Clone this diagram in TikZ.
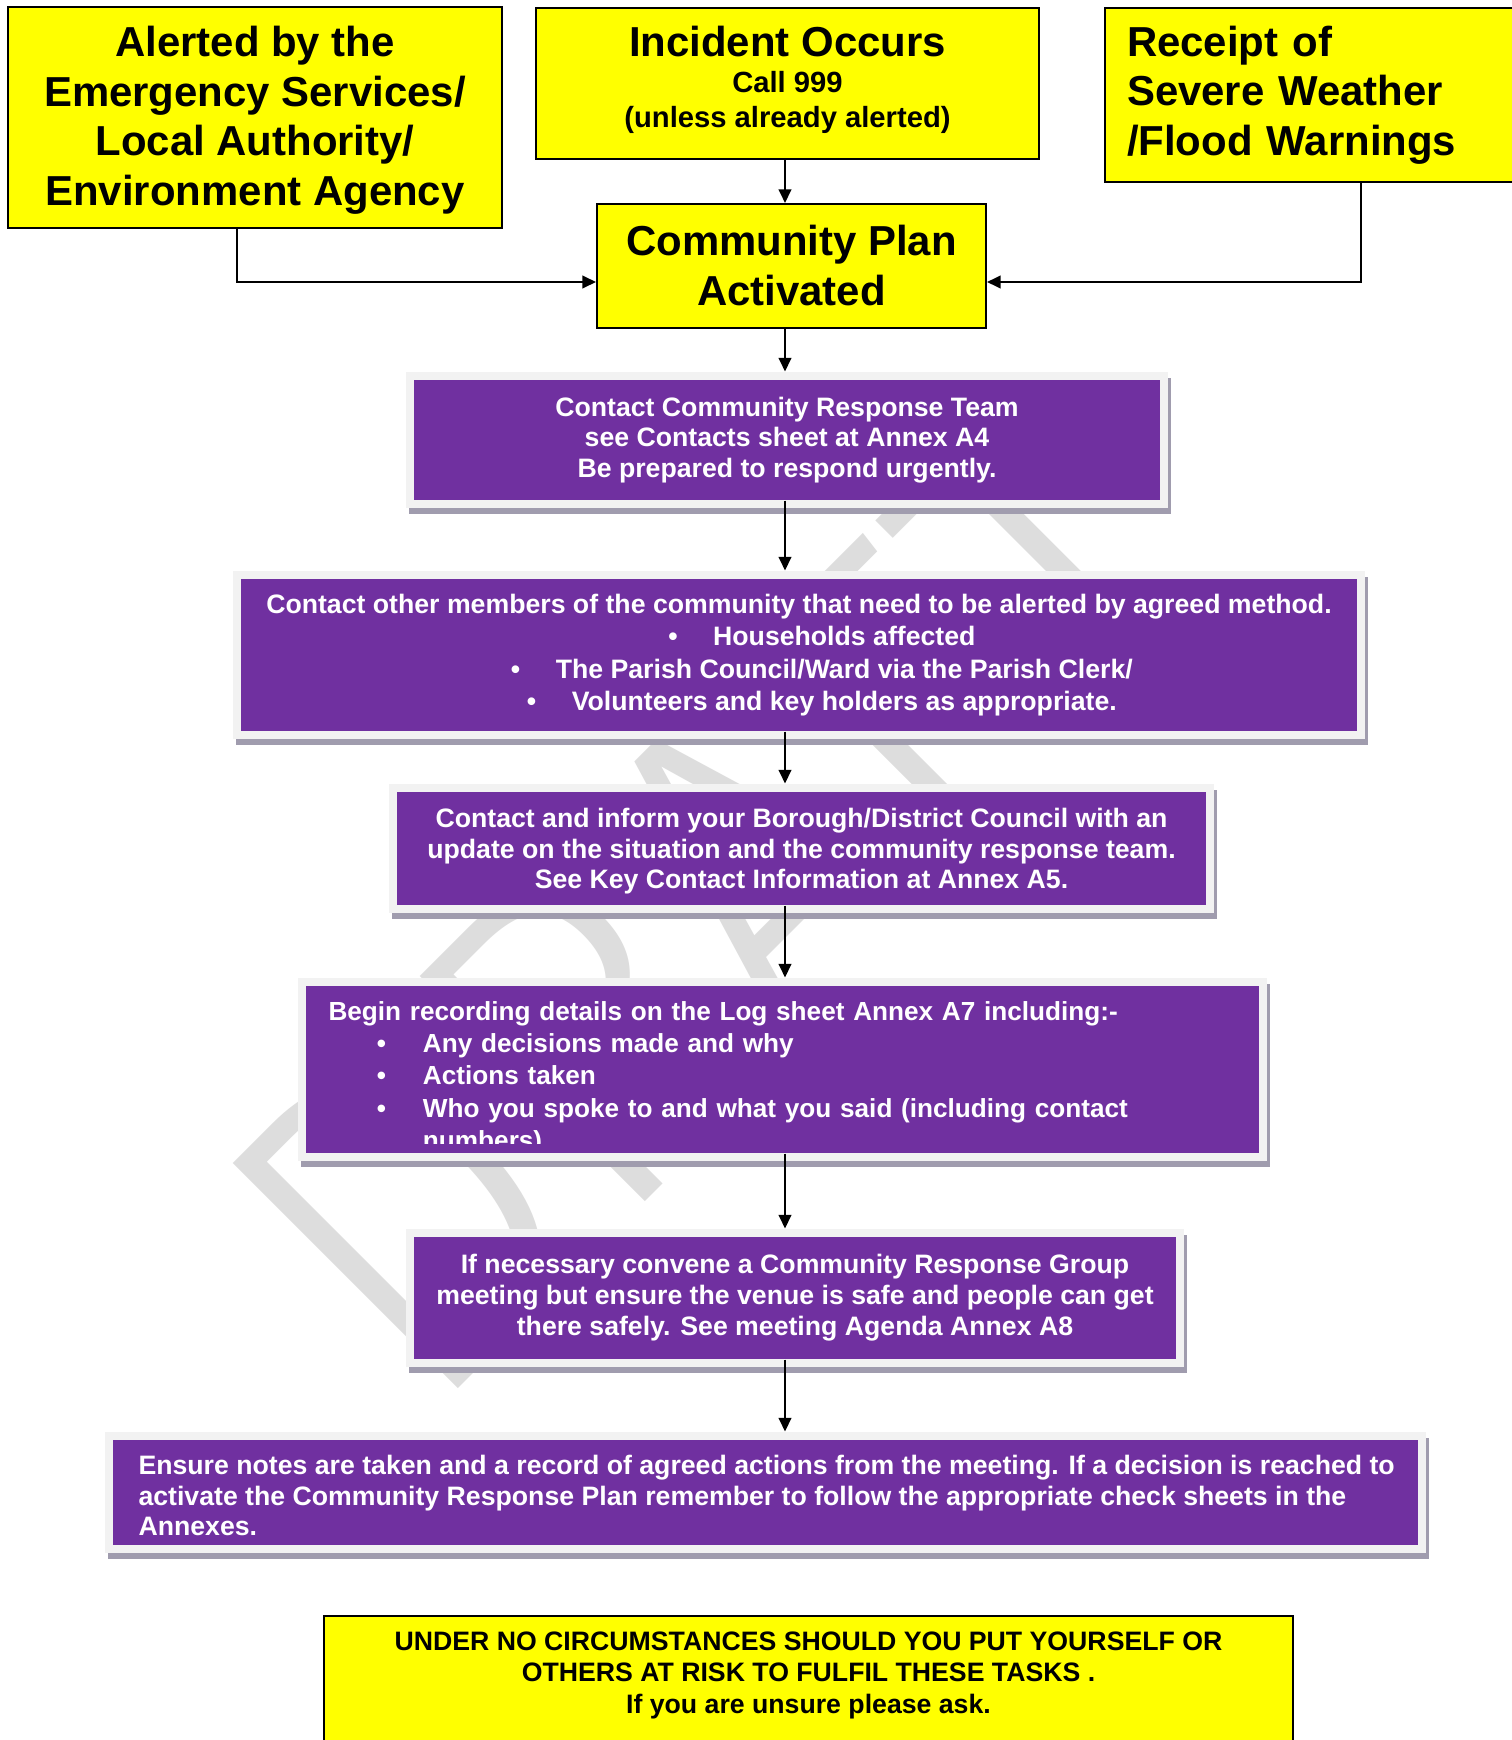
\documentclass[tikz,border=0pt]{standalone}
\usepackage{fontspec}
\setmainfont{Liberation Sans}
\newfontfamily\wmfont{Fira Sans}[UprightFont=* Light]
\usetikzlibrary{shadows,arrows.meta}

\definecolor{plyellow}{RGB}{255,255,0}
\definecolor{plpurple}{RGB}{112,48,160}
\definecolor{plframe}{RGB}{242,242,242}
\definecolor{plshadow}{RGB}{160,156,174}
\definecolor{plmark}{RGB}{221,221,221}

% one pixel of the sheet
\newcommand\pxl{0.3937pt}
\newcommand\logitem[1]{\hspace*{19pt}\makebox[18.2pt][l]{\textbullet}#1}

\begin{document}
\begin{tikzpicture}[x=0.3937pt, y=-0.3937pt,
  >={Triangle[length=5.4pt,width=5pt]},
  every node/.style={font=\bfseries},
  ybox/.style={draw, line width=0.8pt, fill=plyellow, inner sep=0pt, align=center,
    font=\bfseries\fontsize{16.5}{19.5}\selectfont},
  pbox/.style={fill=plpurple, text=white, inner sep=0pt, align=center,
    font=\bfseries\fontsize{10.5}{12}\selectfont,
    general shadow={fill=plshadow, draw=plshadow, line width=16*\pxl,
      shadow xshift=3*\pxl, shadow yshift=-6*\pxl},
    preaction={draw=plframe, line width=16*\pxl}},
  ptext/.style={text=white, inner sep=0pt, align=left, anchor=north west},
  link/.style={->, line width=0.8pt},
  plink/.style={link, shorten >=3.15pt}]

  \path[use as bounding box, fill=white] (0,0) rectangle (1512,1740);

  % watermark behind everything
  \node[font=\wmfont\fontsize{183}{183}\selectfont, text=plmark, inner sep=0pt,
    rotate=45, xscale=0.9] (draft) at (722,900) {DRAFT};

  % what sets the plan off
  \node[ybox, minimum width=494*\pxl, minimum height=221*\pxl, inner ysep=0pt] (alerted) at (255,117.5)
    {\rule{0pt}{14pt}Alerted by the\\Emergency Services/\\Local Authority/\\Environment Agency};
  \node[ybox, minimum width=503*\pxl, minimum height=151*\pxl,
    font=\bfseries\fontsize{11.5}{14}\selectfont] (incident) at (787.5,83.5)
    {{\fontsize{16.5}{19.5}\selectfont Incident Occurs}\\Call 999\\(unless already alerted)\rule[-5pt]{0pt}{5pt}};
  \node[ybox, align=left, text width=153.9pt, inner xsep=22*\pxl, minimum height=174*\pxl] (receipt) at (1322.5,95)
    {Receipt of\\Severe Weather\\/Flood Warnings};
  \node[ybox, minimum width=389*\pxl, minimum height=124*\pxl,
    font=\bfseries\fontsize{16.5}{19.7}\selectfont] (plan) at (791.5,266) {Community Plan\\Activated};

  % steps
  \node[pbox, minimum width=746*\pxl, minimum height=120*\pxl] (team) at (787,440)
    {Contact Community Response Team\\see Contacts sheet at Annex A4\\Be prepared to respond urgently.};
  \node[pbox, minimum width=1116*\pxl, minimum height=152*\pxl,
    font=\bfseries\fontsize{10.5}{12.8}\selectfont] (members) at (799,655)
    {Contact other members of the community that need to be alerted by agreed method.\\
     \hspace*{18pt}\textbullet\hspace{14pt}Households affected\\
     \hspace*{18pt}\textbullet\hspace{14pt}The Parish Council/Ward via the Parish Clerk/\\
     \hspace*{18pt}\textbullet\hspace{14pt}Volunteers and key holders as appropriate.};
  \node[pbox, minimum width=809*\pxl, minimum height=113*\pxl] (council) at (801.5,848.5)
    {\rule{0pt}{10pt}Contact and inform your Borough/District Council with an\\update on the situation and the community response team.\\See Key Contact Information at Annex A5.};
  \node[pbox, minimum width=953*\pxl, minimum height=167*\pxl] (logbox) at (782.5,1069.5) {};
  \begin{scope}
    \clip (logbox.north west) rectangle ([yshift=10*\pxl]logbox.south east);
    \node[ptext, text width=357pt, font=\bfseries\fontsize{10.3}{12.7}\selectfont] (logtext) at (328,1001)
      {Begin recording details on the Log sheet Annex A7 including:-\\
       \logitem{Any decisions made and why}\\
       \logitem{Actions taken}\\
       \logitem{Who you spoke to and what you said (including contact}\\
       \hspace*{37.2pt}numbers)};
  \end{scope}
  \node[pbox, minimum width=762*\pxl, minimum height=122*\pxl,
    font=\bfseries\fontsize{10.5}{12.2}\selectfont] (meeting) at (795,1298)
    {If necessary convene a Community Response Group\\meeting but ensure the venue is safe and people can get\\there safely. See meeting Agenda Annex A8};
  \node[pbox, minimum width=1305*\pxl, minimum height=105*\pxl] (notes) at (765.5,1492.5) {};
  \node[ptext, font=\bfseries\fontsize{10.5}{12}\selectfont] (notestext) at (138,1455)
    {Ensure notes are taken and a record of agreed actions from the meeting. If a decision is reached to\\activate the Community Response Plan remember to follow the appropriate check sheets in the\\Annexes.};

  % warning
  \node[draw, line width=0.8pt, fill=plyellow, minimum width=969*\pxl, minimum height=164*\pxl] (warn) at (808.5,1698) {};
  \node[align=center, font=\bfseries\fontsize{10.5}{12.4}\selectfont] (warntext) at (808.5,1675)
    {UNDER NO CIRCUMSTANCES SHOULD YOU PUT YOURSELF OR\\OTHERS AT RISK TO FULFIL THESE TASKS .\\If you are unsure please ask.};

  % connectors
  \coordinate (spine) at (785,0);
  \coordinate (lefttap) at (237,282);
  \coordinate (righttap) at (1361,282);
  \draw[link] (incident.south -| spine) -- (plan.north -| spine);
  \draw[link] (alerted.south -| lefttap) |- (plan.west |- lefttap);
  \draw[link] (receipt.south -| righttap) |- (plan.east |- righttap);
  \draw[plink] (plan.south -| spine) -- (team.north -| spine);
  \draw[plink] (team.south -| spine) -- (members.north -| spine);
  \draw[plink] (members.south -| spine) -- (council.north -| spine);
  \draw[plink] (council.south -| spine) -- (logbox.north -| spine);
  \draw[plink] (logbox.south -| spine) -- (meeting.north -| spine);
  \draw[plink] (meeting.south -| spine) -- (notes.north -| spine);
\end{tikzpicture}
\end{document}
